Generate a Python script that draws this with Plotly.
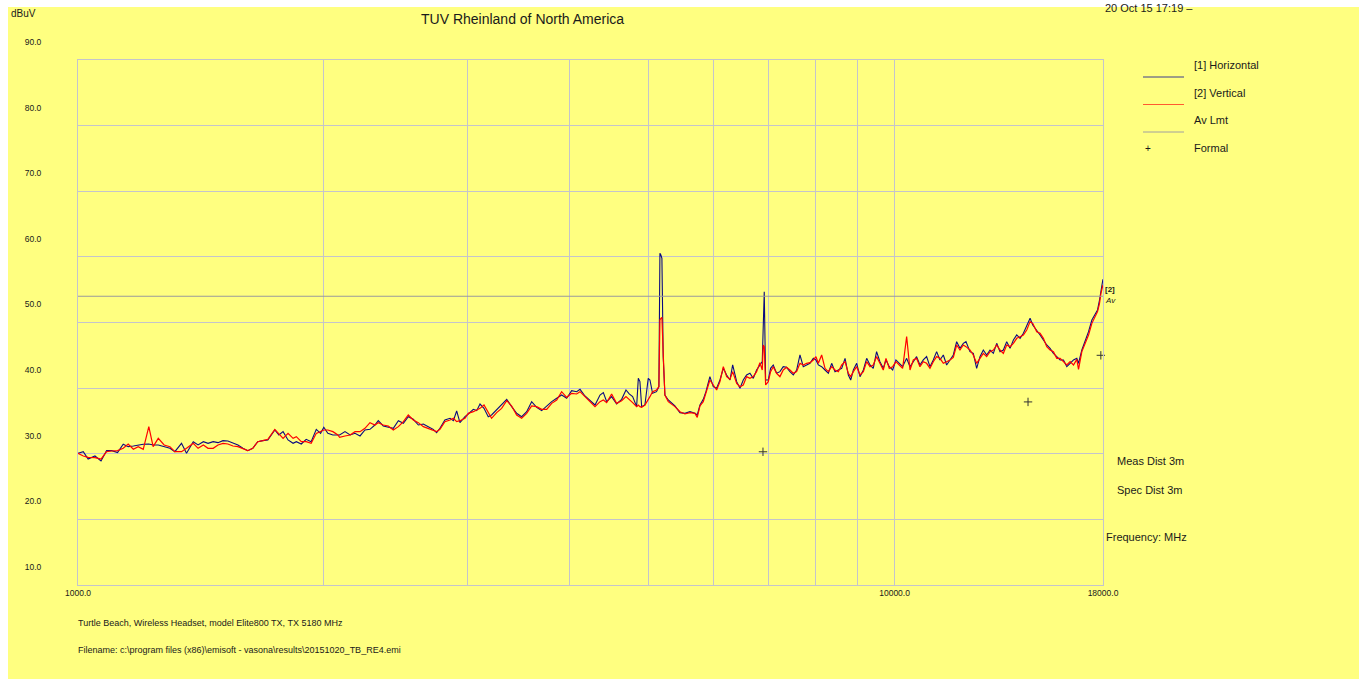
import plotly.graph_objects as go
import math

# ---------------- data ----------------
freq_mhz = [
    1000, 1015, 1029, 1049, 1067, 1084, 1100, 1118, 1136, 1152,
    1169, 1185, 1202, 1221, 1236, 1254, 1275, 1296, 1314, 1339,
    1358, 1384, 1403, 1424, 1443, 1464, 1484, 1505, 1526, 1548,
    1570, 1592, 1614, 1637, 1660, 1684, 1708, 1742, 1762, 1783,
    1808, 1834, 1851, 1877, 1903, 1930, 1958, 1982, 2000, 2023,
    2052, 2081,
    2091, 2123, 2154, 2184, 2215, 2246, 2278, 2310, 2332, 2365,
    2399, 2433, 2468, 2503, 2538, 2574, 2611, 2648, 2685, 2723,
    2749, 2775, 2814, 2855, 2882, 2909, 2936, 2978, 3006, 3049,
    3078, 3107, 3142, 3180, 3210, 3256, 3302, 3350, 3397, 3445,
    3494, 3544, 3594, 3645, 3697, 3750, 3803, 3857, 3911, 3967,
    4023, 4080, 4119, 4177, 4236, 4297,
    4358, 4399, 4441, 4503, 4567, 4632, 4689, 4732, 4778, 4832,
    4855, 4877, 4901, 4946, 4993, 5017, 5054, 5111, 5145, 5160,
    5174, 5189, 5208, 5233, 5283, 5333, 5383, 5460, 5537, 5616,
    5696, 5733, 5777, 5831, 5875, 5941, 5998, 6055, 6112, 6170,
    6228, 6287, 6335, 6407, 6467, 6527, 6589, 6651, 6714, 6777,
    6841, 6886, 6905, 6925, 6952, 7004, 7050, 7103, 7170, 7238,
    7306, 7375, 7445, 7516, 7587, 7659, 7731, 7804, 7878, 7953,
    8012, 8066, 8142, 8219, 8297, 8375, 8454, 8534, 8615, 8697,
    8778, 8837, 8903, 8987,
    9072, 9158, 9244, 9331, 9417, 9506, 9596, 9687, 9761, 9852,
    9947, 10039, 10134, 10230, 10347, 10445, 10543, 10641, 10742, 10844,
    10946, 11050, 11154, 11260, 11366, 11474, 11582, 11692, 11802, 11914,
    12026, 12140, 12231, 12369, 12486, 12605, 12724, 12844, 12966, 13089,
    13213, 13338, 13464, 13591, 13720, 13850, 13981, 14113, 14247, 14381,
    14517, 14655, 14765, 14932, 15073, 15216, 15360, 15505, 15652, 15800,
    15950, 16101, 16253, 16407, 16563, 16719, 16799, 16958, 17119, 17281,
    17444, 17609, 17725, 17824, 17894, 17996,
]

horizontal_dbuv = [
    30.07, 30.32, 29.20, 29.66, 28.90, 30.47, 30.47, 30.17, 31.44, 31.08,
    31.18, 31.34, 31.44, 31.49, 31.34, 31.34, 31.08, 30.83, 30.32, 31.59,
    30.07, 31.84, 31.34, 31.84, 31.59, 31.84, 31.69, 32.00, 31.95, 31.59,
    31.34, 30.83, 30.47, 30.83, 31.84, 32.00, 32.10, 33.62, 32.86, 33.37,
    32.10, 31.59, 31.84, 31.49, 32.20, 31.84, 33.72, 33.11, 34.03, 33.11,
    32.86, 32.86,
    32.86, 33.37, 32.86, 33.11, 32.71, 33.62, 33.72, 34.38, 35.04, 34.23,
    34.03, 33.88, 35.04, 34.64, 35.65, 35.25, 34.38, 34.54, 34.13, 33.72,
    33.21, 33.88, 35.15, 35.40, 35.04, 36.52, 34.74, 35.65, 36.06, 36.77,
    36.57, 37.58, 36.92, 35.65, 35.91, 36.67, 37.43, 38.29, 37.18, 36.16,
    35.65, 36.41, 37.94, 37.07, 36.57, 37.28, 37.94, 38.45, 38.95, 38.45,
    39.61, 39.46, 39.82, 38.80, 38.19, 37.43,
    38.95, 39.31, 37.94, 38.70, 37.58, 38.29, 39.72, 39.11, 38.70, 37.18,
    41.49, 40.99, 37.18, 37.43, 41.49, 41.24, 39.21, 39.46, 40.22, 60.54,
    60.28, 59.78, 44.79, 38.95, 38.19, 37.68, 37.28, 36.26, 36.16, 36.41,
    36.16, 35.91, 37.43, 38.29, 39.46, 41.75, 40.22, 39.97, 41.24, 43.02,
    42.00, 41.24, 43.53, 40.99, 39.97, 41.24, 42.00, 42.26, 41.49, 42.76,
    43.53, 44.03, 49.26, 54.70, 41.24, 41.24, 43.02, 43.53, 42.26, 42.51,
    43.27, 43.17, 42.51, 42.00, 42.76, 45.05, 43.27, 43.53, 43.78, 44.54,
    44.29, 43.53, 43.27, 42.76, 42.26, 43.78, 42.51, 42.76, 43.02, 44.54,
    42.00, 41.24, 42.76, 43.78,
    41.75, 42.76, 44.54, 43.53, 43.02, 45.56, 44.03, 43.02, 44.29, 43.27,
    42.76, 44.29, 43.78, 43.27, 44.54, 43.27, 44.03, 44.80, 43.53, 44.29,
    44.80, 43.27, 44.29, 45.56, 44.29, 45.05, 43.53, 44.29, 45.05, 47.08,
    46.06, 46.83, 47.08, 45.56, 45.30, 43.02, 44.80, 45.81, 45.05, 45.81,
    45.30, 46.83, 45.56, 45.81, 47.08, 46.06, 47.33, 48.10, 47.59, 48.35,
    49.37, 50.64, 49.62, 48.86, 48.10, 47.33, 46.57, 46.06, 45.30, 44.80,
    44.29, 44.29, 43.27, 43.78, 44.29, 44.54, 43.78, 45.81, 47.08, 48.60,
    50.38, 51.40, 51.91, 53.43, 54.95, 56.58,
]

vertical_dbuv = [
    30.07, 29.66, 29.46, 29.41, 29.20, 30.32, 30.42, 30.47, 30.83, 31.49,
    30.68, 31.08, 30.68, 34.13, 31.08, 32.35, 31.34, 31.08, 30.32, 30.32,
    30.83, 31.59, 30.83, 31.34, 30.83, 30.83, 31.34, 31.59, 31.49, 31.18,
    31.08, 30.83, 30.47, 30.83, 31.84, 32.00, 32.20, 33.72, 33.11, 32.35,
    33.11, 32.35, 32.61, 31.84, 31.84, 31.59, 33.11, 33.37, 33.62, 33.62,
    33.37, 32.86,
    32.50, 32.71, 32.86, 33.37, 33.37, 33.88, 34.74, 34.38, 34.74, 34.38,
    34.23, 33.62, 34.13, 34.89, 35.91, 35.15, 34.74, 34.13, 33.88, 33.62,
    33.37, 33.72, 34.89, 35.15, 35.40, 34.89, 35.04, 35.40, 36.16, 36.41,
    36.67, 36.92, 37.43, 36.16, 35.40, 36.26, 36.92, 38.09, 37.28, 35.91,
    35.40, 36.16, 37.28, 37.18, 36.77, 36.77, 37.68, 38.19, 39.46, 38.60,
    39.21, 39.11, 39.46, 38.70, 37.94, 37.18,
    37.94, 38.19, 37.79, 39.11, 37.68, 38.09, 38.70, 38.29, 37.79, 37.18,
    37.43, 37.18, 37.07, 37.43, 38.19, 38.70, 39.46, 39.72, 40.22, 50.38,
    50.64, 50.79, 45.30, 38.95, 37.94, 37.58, 37.18, 36.41, 36.06, 36.26,
    36.16, 35.55, 37.28, 37.94, 39.21, 41.24, 40.48, 39.72, 40.99, 43.27,
    41.75, 41.34, 42.51, 40.73, 40.22, 40.48, 41.75, 41.49, 41.75, 42.51,
    43.88, 42.76, 46.57, 46.32, 40.48, 40.99, 42.51, 43.27, 42.26, 41.75,
    42.76, 43.17, 42.76, 42.26, 42.51, 43.78, 43.53, 43.78, 43.88, 44.29,
    44.79, 43.78, 45.05, 43.02, 42.51, 43.27, 42.76, 42.51, 43.53, 44.03,
    42.26, 41.75, 42.51, 43.27,
    42.00, 42.51, 44.03, 43.27, 43.53, 44.80, 43.78, 42.76, 44.54, 43.02,
    43.27, 44.03, 43.53, 43.02, 47.84, 42.76, 44.29, 44.54, 43.27, 44.03,
    43.78, 43.02, 44.03, 44.80, 44.54, 43.78, 44.03, 44.29, 44.69, 46.57,
    45.81, 46.57, 46.32, 45.81, 45.05, 43.78, 44.54, 45.30, 44.80, 45.56,
    45.81, 46.57, 45.81, 45.30, 46.57, 46.32, 46.83, 47.59, 47.84, 48.10,
    48.86, 50.13, 49.87, 48.60, 48.35, 47.59, 46.32, 45.81, 45.56, 44.54,
    44.54, 44.03, 43.53, 44.03, 43.53, 44.39, 42.87, 45.56, 46.83, 48.10,
    49.87, 50.89, 51.65, 52.92, 54.44, 55.71,
]

limit_freq = [1000, 18000]
av_limit_dbuv = [54.0, 54.0]

formal_freq = [6900, 14570, 17890]
formal_dbuv = [30.3, 37.9, 45.0]

x_tick_vals = [1000, 2000, 3000, 4000, 5000, 6000, 7000, 8000, 9000, 10000, 18000]
x_tick_text = ["1000.0", "", "", "", "", "", "", "", "", "10000.0", "18000.0"]
y_tick_vals = [10, 20, 30, 40, 50, 60, 70, 80, 90]
y_tick_text = ["10.0", "20.0", "30.0", "40.0", "50.0", "60.0", "70.0", "80.0", "90.0"]

# ---------------- layout helpers ----------------
W, H = 1363, 679
L, R, T, B = 78, 260, 60, 94
PW, PH = W - L - R, H - T - B


def px(x):
    return (x - L) / PW


def py(y):
    return (H - B - y) / PH


FONT = "Liberation Sans, Arial, sans-serif"
TXT = "#1a1a1a"
YELLOW = "#ffff80"
GRID = "#c4c4cc"

fig = go.Figure()
fig.add_trace(go.Scatter(x=freq_mhz, y=horizontal_dbuv, mode="lines", name="[1] Horizontal",
                         line=dict(color="#0a0a80", width=1.1)))
fig.add_trace(go.Scatter(x=freq_mhz, y=vertical_dbuv, mode="lines", name="[2] Vertical",
                         line=dict(color="#ff0000", width=1.2)))
fig.add_trace(go.Scatter(x=limit_freq, y=av_limit_dbuv, mode="lines", name="Av Lmt",
                         line=dict(color="#9a9a9a", width=1)))
fig.add_trace(go.Scatter(x=formal_freq, y=formal_dbuv, mode="markers", name="Formal",
                         marker=dict(symbol="cross-thin", size=6, line=dict(color="#333333", width=1)),
                         cliponaxis=False))

shapes = [
    dict(type="rect", xref="paper", yref="paper", x0=px(8), x1=px(1359), y0=py(679), y1=py(7),
         fillcolor=YELLOW, line=dict(width=0), layer="below"),
]
legend_lines = [(77, "#3c3c8a"), (104.5, "#ff5a30"), (132, "#a0a0a0")]
for yy, col in legend_lines:
    shapes.append(dict(type="line", xref="paper", yref="paper", x0=px(1143), x1=px(1184),
                       y0=py(yy), y1=py(yy), line=dict(color=col, width=1)))

annotations = []


def txt(text, x, y, size=9, xanchor="left", yanchor="middle"):
    annotations.append(dict(text=text, x=px(x), y=py(y), xref="paper", yref="paper",
                            xanchor=xanchor, yanchor=yanchor, showarrow=False,
                            font=dict(family=FONT, size=size, color=TXT)))


txt("TUV Rheinland of North America", 522, 19, size=14, xanchor="center")
txt("20 Oct 15 17:19 \u2013", 1103, 0, size=11, yanchor="top")
txt("dBuV", 9, 14, size=10)
txt("[1] Horizontal", 1192, 65, size=11)
txt("[2] Vertical", 1192, 93, size=11)
txt("Av Lmt", 1192, 120, size=11)
txt("+", 1143, 148, size=10)
txt("Formal", 1192, 148, size=11)
txt("<b>[2]</b>", 1103, 289, size=8)
txt("<i>Av</i>", 1103, 300.5, size=8)
txt("Meas Dist 3m", 1115, 461, size=11)
txt("Spec Dist 3m", 1115, 490, size=11)
txt("Frequency: MHz", 1104, 537, size=11)
txt("Turtle Beach, Wireless Headset, model Elite800 TX, TX 5180 MHz", 76, 623, size=9)
txt(r"Filename: c:\program files (x86)\emisoft - vasona\results\20151020_TB_RE4.emi", 76, 650, size=9)

fig.update_layout(
    width=W, height=H,
    margin=dict(l=L, r=R, t=T, b=B, pad=0),
    paper_bgcolor="white",
    plot_bgcolor="rgba(0,0,0,0)",
    showlegend=False,
    shapes=shapes,
    annotations=annotations,
    font=dict(family=FONT, color=TXT),
    xaxis=dict(type="log", range=[3, math.log10(18000)], tickvals=x_tick_vals, ticktext=x_tick_text,
               showgrid=True, gridcolor=GRID, gridwidth=1, zeroline=False, ticks="",
               showline=True, linecolor=GRID, linewidth=1, mirror=True,
               tickfont=dict(family=FONT, size=8.5, color=TXT)),
    yaxis=dict(range=[10, 90], tickvals=y_tick_vals, ticktext=y_tick_text,
               showgrid=True, gridcolor=GRID, gridwidth=1, zeroline=False, ticks="",
               showline=True, linecolor=GRID, linewidth=1, mirror=True,
               ticklabelshift=-18, ticklabelstandoff=34,
               tickfont=dict(family=FONT, size=8.5, color=TXT)),
)

fig.write_html("out.html",
               config={"displayModeBar": False},
               post_script="document.body.style.margin='0';document.body.style.overflow='hidden';")
